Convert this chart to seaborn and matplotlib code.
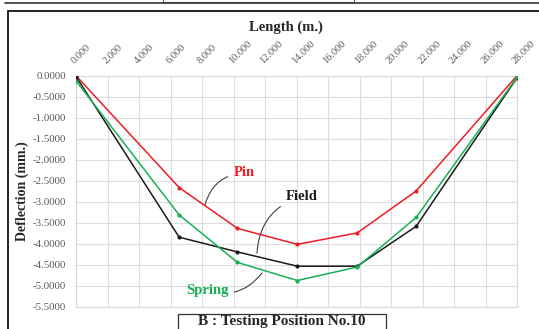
import matplotlib
matplotlib.use("Agg")
import matplotlib.pyplot as plt
from matplotlib.patches import Rectangle
from matplotlib.lines import Line2D
import seaborn as sns
import pandas as pd

# ---- data ----
length_m = [0.0, 6.55, 10.25, 14.05, 17.85, 21.6, 28.0]
pin = [0.0, -2.66, -3.63, -4.01, -3.74, -2.74, 0.0]
field = [-0.02, -3.84, -4.19, -4.53, -4.53, -3.58, -0.05]
spring = [-0.12, -3.31, -4.44, -4.87, -4.55, -3.37, -0.04]
series_names = ["Pin", "Field", "Spring"]
series_colors = {"Pin": "#EE1C25", "Field": "#1A1A1A", "Spring": "#17B055"}
x_ticks = [0, 2, 4, 6, 8, 10, 12, 14, 16, 18, 20, 22, 24, 26, 28]
y_ticks = [0.0, -0.5, -1.0, -1.5, -2.0, -2.5, -3.0, -3.5, -4.0, -4.5, -5.0, -5.5]

df = pd.DataFrame({
    "Length": length_m * 3,
    "Deflection": pin + field + spring,
    "Series": ["Pin"] * len(pin) + ["Field"] * len(field) + ["Spring"] * len(spring),
})

sns.set_style("whitegrid")
plt.rcParams["font.family"] = ["Liberation Serif", "DejaVu Serif"]

W, H = 539, 329
fig = plt.figure(figsize=(W / 100, H / 100), dpi=100)
ax = fig.add_axes([76 / W, 1 - 307 / H, (517 - 76) / W, (307 - 75.7) / H])

sns.lineplot(data=df, x="Length", y="Deflection", hue="Series", hue_order=series_names,
             palette=series_colors, marker="o", markersize=3, markeredgewidth=0,
             linewidth=1.1, legend=False, ax=ax, sort=False, zorder=3)

ax.set_xlim(0, 28)
ax.set_ylim(-5.5, 0)
ax.set_xticks(x_ticks)
ax.set_yticks(y_ticks)
ax.xaxis.tick_top()
ax.set_xticklabels([f"{v:.3f}" for v in x_ticks], rotation=45, ha="left", va="bottom",
                   rotation_mode="anchor", fontsize=7.5, color="#595959")
ax.set_yticklabels([f"{v:.4f}" for v in y_ticks], fontsize=7.8, color="#595959")
ax.tick_params(axis="both", length=0)
ax.tick_params(axis="y", pad=7)
ax.tick_params(axis="x", pad=7.5)
ax.grid(True, color="#DDDDDD", linewidth=0.8)
for s in ax.spines.values():
    s.set_color("#D9D9D9")
    s.set_linewidth(0.8)
ax.set_xlabel("")
ax.set_ylabel("Deflection (mm.)", fontsize=10, fontweight="bold", labelpad=3)

fig.text(286 / W, 1 - 27.5 / H, "Length (m.)", ha="center", va="center",
         fontsize=10.5, fontweight="bold")

# annotations
arrow = dict(arrowstyle="-", color="#404040", lw=0.8,
             connectionstyle="arc3,rad=0.35", shrinkA=2, shrinkB=0)
ax.annotate("Pin", xy=(8.19, -3.07), xytext=(10.67, -2.31), ha="center", va="center",
            color=series_colors["Pin"], fontsize=10.5, fontweight="bold", arrowprops=arrow)
ax.annotate("Field", xy=(11.49, -4.22), xytext=(14.35, -2.87), ha="center", va="center",
            color="#1A1A1A", fontsize=10.5, fontweight="bold", arrowprops=arrow)
ax.annotate("Spring", xy=(11.81, -4.69), xytext=(8.32, -5.10), ha="center", va="center",
            color=series_colors["Spring"], fontsize=10.5, fontweight="bold", arrowprops=arrow)

# frames
fig.add_artist(Line2D([5 / W, 1], [1 - 3 / H, 1 - 3 / H], color="#333333", lw=1.2))
fig.add_artist(Rectangle((163 / W, 1 - 2 / H), (354 - 163) / W, 4 / H, fill=False,
                         edgecolor="#666666", lw=0.8))
fig.add_artist(Rectangle((8 / W, -0.1), 1.2, 1.1 - 11 / H, fill=False,
                         edgecolor="#111111", lw=1.3))
fig.add_artist(Rectangle((178 / W, -0.1), (386 - 178) / W, 0.1 + (329 - 314) / H,
                         fill=True, facecolor="white", edgecolor="#333333", lw=0.9))
fig.text(282 / W, 0.8 / H, "B : Testing Position No.10", ha="center", va="bottom",
         fontsize=11, fontweight="bold")

fig.savefig("out.png", dpi=100, facecolor="white")
